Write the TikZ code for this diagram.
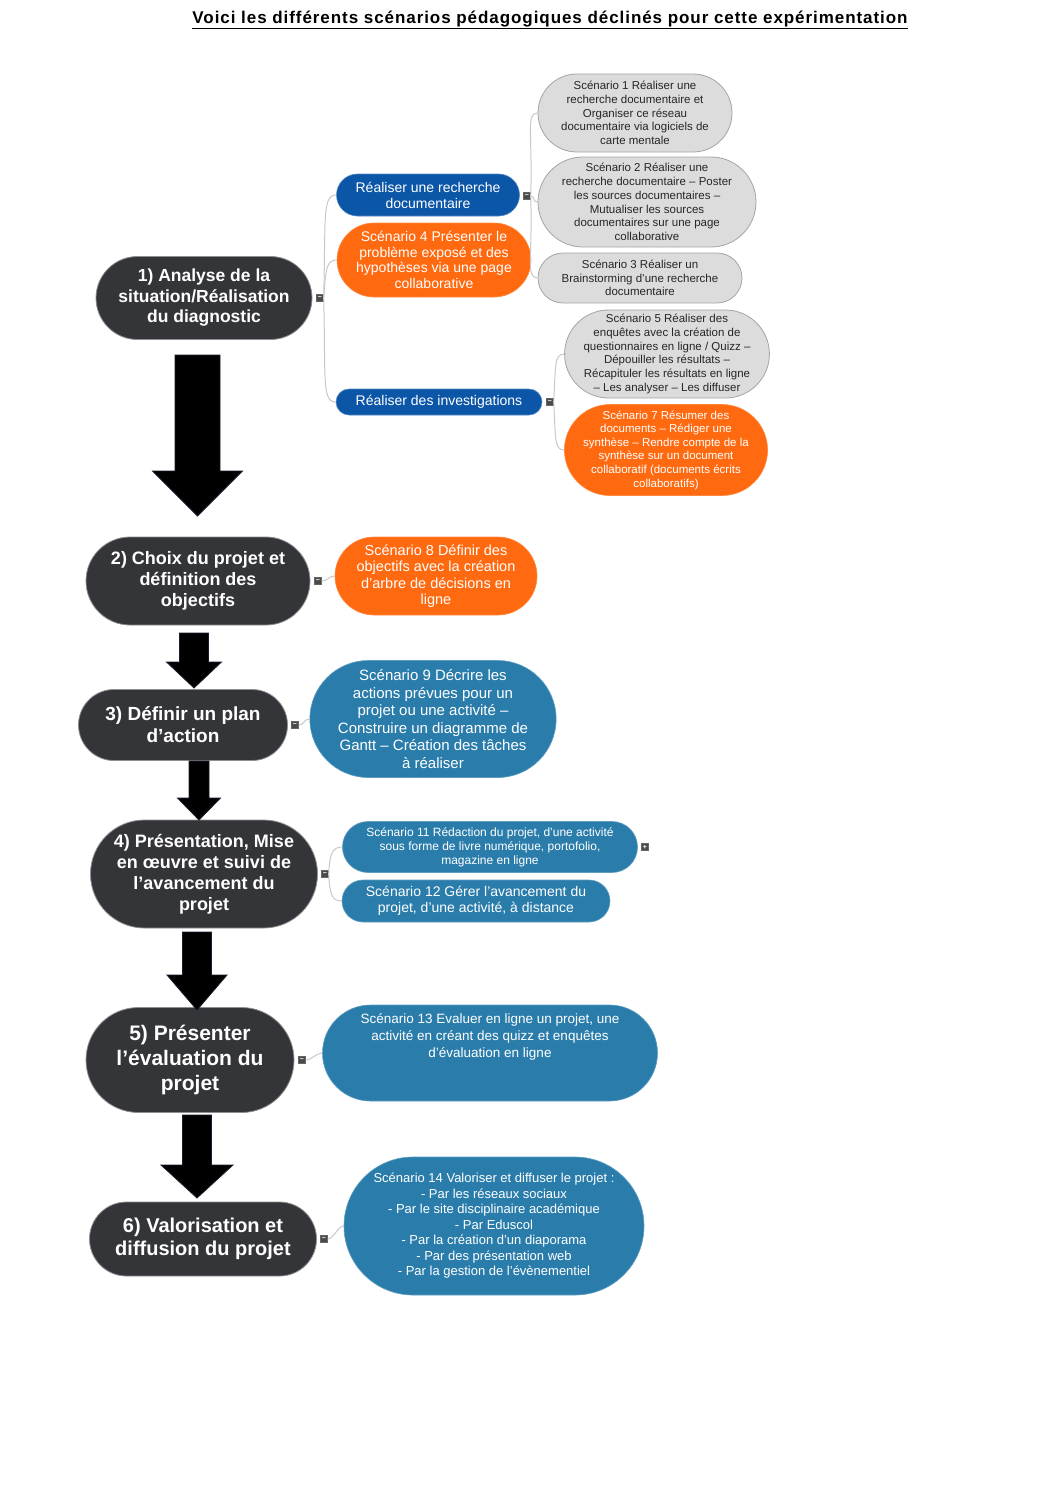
\documentclass[tikz,border=0pt]{standalone}
\usepackage{fontspec}
\setmainfont{Liberation Sans}
\usetikzlibrary{shapes.misc}

\definecolor{etapefond}{HTML}{343539}
\definecolor{etapebord}{HTML}{8E8E90}
\definecolor{bleubranche}{HTML}{0C56A8}
\definecolor{orangesc}{HTML}{FF6A10}
\definecolor{bleusc}{HTML}{2A7DAB}
\definecolor{grisfond}{HTML}{DCDCDC}
\definecolor{grisbord}{HTML}{A4A4A4}
\definecolor{liengris}{HTML}{C8C8C8}
\definecolor{basculefond}{HTML}{4A4A4A}
\definecolor{flechebord}{HTML}{1C1C30}

\newcommand{\corps}[2]{\fontsize{#1}{#2}\selectfont}

% grosse fleche : x, haut, pointe, demi-corps, demi-tete, longueur tete
\newcommand{\grossefleche}[6]{
	\filldraw[fill=black, draw=flechebord, line width=0.8pt]
	(#1-#4,#2) -- (#1+#4,#2) -- (#1+#4,#3-#6) -- (#1+#5,#3-#6) --
	(#1,#3) -- (#1-#5,#3-#6) -- (#1-#4,#3-#6) -- cycle;
}

\tikzset{
	etape/.style 2 args={rounded rectangle, fill=etapefond, draw=etapebord, line width=0.8pt,
		text=white, align=center, inner sep=1pt, font=\corps{#1}{#2}\bfseries},
	branche/.style={rounded rectangle, fill=bleubranche, draw=bleubranche!70!white, line width=0.6pt,
		text=white, align=center, inner sep=1pt, font=\corps{14}{16}},
	scenorange/.style 2 args={rounded rectangle, fill=orangesc, draw=orangesc!80!white, line width=0.6pt,
		text=white, align=center, inner sep=1pt, font=\corps{#1}{#2}},
	scengris/.style={rounded rectangle, fill=grisfond, draw=grisbord, line width=0.8pt,
		text=black!85, align=center, inner ysep=1pt, inner xsep=-6pt, font=\corps{11.5}{13.7}},
	scenbleu/.style 2 args={rounded rectangle, fill=bleusc, draw=bleusc!75!white, line width=0.6pt,
		text=white, align=center, inner sep=1pt, font=\corps{#1}{#2}},
	bascule/.style={fill=basculefond, draw=black!60, line width=0.4pt, minimum size=7pt,
		inner sep=0pt, text=white, font=\corps{7}{7}\bfseries},
	lien/.style={draw=liengris, line width=1pt},
}

\begin{document}
\begin{tikzpicture}[x=1pt, y=-1pt]
	
	\useasboundingbox (0,0) rectangle (1058,1497);
	
	% titre
	\node (titre) at (550,20) {\corps{17}{19}\bfseries\addfontfeature{LetterSpace=5.5}%
		\underline{Voici les différents scénarios pédagogiques déclinés pour cette expérimentation}};
	
	% les etapes
	\node[etape={17.5}{20.5}, minimum width=218pt, minimum height=83pt] (e1) at (204,298)
	{1) Analyse de la\\situation/Réalisation\\du diagnostic};
	\node[etape={18}{21}, minimum width=226pt, minimum height=88pt] (e2) at (198,581)
	{2) Choix du projet et\\définition des\\objectifs};
	\node[etape={19}{22}, minimum width=211pt, minimum height=71pt] (e3) at (183,725)
	{3) Définir un plan\\d’action};
	\node[etape={18}{21}, minimum width=229pt, minimum height=108pt] (e4) at (204,874)
	{4) Présentation, Mise\\en œuvre et suivi de\\l’avancement du\\projet};
	\node[etape={21}{25}, minimum width=210pt, minimum height=105pt] (e5) at (190,1060)
	{5) Présenter\\l’évaluation du\\projet};
	\node[etape={20}{23}, minimum width=229pt, minimum height=74pt] (e6) at (203,1239)
	{6) Valorisation et\\diffusion du projet};
	
	% les fleches entre etapes
	\grossefleche{197.5}{355}{516}{22.5}{45}{45}
	\grossefleche{194}{633}{688}{14.5}{27.5}{26}
	\grossefleche{199}{761}{820}{10}{21.5}{22}
	\grossefleche{197}{932}{1010}{14.5}{30}{35}
	\grossefleche{197}{1115}{1198}{14.5}{36}{33}
	
	% branches de l'etape 1
	\node[branche, minimum width=185pt, minimum height=42pt] (b1) at (428,195)
	{Réaliser une recherche\\documentaire};
	\node[scenorange={14}{15.7}, minimum width=196pt, minimum height=74pt] (s4) at (434,260)
	{Scénario 4 Présenter le\\problème exposé et des\\hypothèses via une page\\collaborative};
	\node[branche, minimum width=208pt, minimum height=26pt] (b2) at (439,402)
	{Réaliser des investigations};
	
	\node[scengris, minimum width=182pt, minimum height=78pt] (s1) at (635,113)
	{Scénario 1 Réaliser une\\recherche documentaire et\\Organiser ce réseau\\documentaire via logiciels de\\carte mentale};
	\node[scengris, minimum width=206pt, minimum height=90pt] (s2) at (647,202)
	{Scénario 2 Réaliser une\\recherche documentaire – Poster\\les sources documentaires –\\Mutualiser les sources\\documentaires sur une page\\collaborative};
	\node[scengris, minimum width=192pt, minimum height=50pt] (s3) at (640,278)
	{Scénario 3 Réaliser un\\Brainstorming d’une recherche\\documentaire};
	\node[scengris, minimum width=202pt, minimum height=88pt] (s5) at (667,354)
	{Scénario 5 Réaliser des\\enquêtes avec la création de\\questionnaires en ligne / Quizz –\\Dépouiller les résultats –\\Récapituler les résultats en ligne\\– Les analyser – Les diffuser};
	\node[scenorange={11.5}{13.6}, inner xsep=-4pt, minimum width=203pt, minimum height=91pt] (s7) at (666,450)
	{Scénario 7 Résumer des\\documents – Rédiger une\\synthèse – Rendre compte de la\\synthèse sur un document\\collaboratif (documents écrits\\collaboratifs)};
	
	% scenarios des etapes 2 a 6
	\node[scenorange={14.5}{16.5}, minimum width=204pt, minimum height=78pt] (s8) at (436,576)
	{Scénario 8 Définir des\\objectifs avec la création\\d’arbre de décisions en\\ligne};
	\node[scenbleu={15}{17.5}, minimum width=240pt, minimum height=117pt] (s9) at (433,719)
	{Scénario 9 Décrire les\\actions prévues pour un\\projet ou une activité –\\Construire un diagramme de\\Gantt – Création des tâches\\à réaliser};
	\node[scenbleu={12}{14}, minimum width=297pt, minimum height=51pt] (s11) at (490,847)
	{Scénario 11 Rédaction du projet, d’une activité\\sous forme de livre numérique, portofolio,\\magazine en ligne};
	\node[scenbleu={14}{16}, minimum width=270pt, minimum height=42pt] (s12) at (476,901)
	{Scénario 12 Gérer l’avancement du\\projet, d’une activité, à distance};
	\node[scenbleu={13.5}{17}, minimum width=337pt, minimum height=96pt] (s13) at (490,1053)
	{Scénario 13 Evaluer en ligne un projet, une\\activité en créant des quizz et enquêtes\\d’évaluation en ligne\\\mbox{}\\\mbox{}};
	\node[scenbleu={13}{15.5}, minimum width=302pt, minimum height=138pt] (s14) at (494,1226)
	{Scénario 14 Valoriser et diffuser le projet :\\- Par les réseaux sociaux\\- Par le site disciplinaire académique\\- Par Eduscol\\- Par la création d’un diaporama\\- Par des présentation web\\- Par la gestion de l’évènementiel};
	
	% boutons
	\node[bascule] (t1) at (320,298) {−};
	\node[bascule] (t2) at (527,196) {−};
	\node[bascule] (t3) at (550,402) {−};
	\node[bascule] (t4) at (318,581) {−};
	\node[bascule] (t5) at (295,725) {−};
	\node[bascule] (t6) at (325,874) {−};
	\node[bascule] (t7) at (302,1060) {−};
	\node[bascule] (t8) at (324,1239) {−};
	\node[bascule] (t9) at (645,847) {+};
	
	% liens
	\draw[lien] (t1.east) .. controls +(2,-80) and +(-14,0) .. (b1.west);
	\draw[lien] (t1.east) .. controls +(2,-30) and +(-10,0) .. (s4.west);
	\draw[lien] (t1.east) .. controls +(2,80) and +(-14,0) .. (b2.west);
	
	\draw[lien] (t2.east) .. controls +(2,-62) and +(-12,0) .. (s1.west);
	\draw[lien] (t2.east) .. controls +(5,0) and +(-6,0) .. (s2.west);
	\draw[lien] (t2.east) .. controls +(2,62) and +(-12,0) .. (s3.west);
	
	\draw[lien] (t3.east) .. controls +(2,-36) and +(-10,0) .. (s5.west);
	\draw[lien] (t3.east) .. controls +(2,36) and +(-10,0) .. (s7.west);
	
	\draw[lien] (t4.east) .. controls +(6,0) and +(-6,0) .. (s8.west);
	\draw[lien] (t5.east) .. controls +(6,0) and +(-6,0) .. (s9.west);
	\draw[lien] (t6.east) .. controls +(1,-20) and +(-10,0) .. (s11.west);
	\draw[lien] (t6.east) .. controls +(1,20) and +(-10,0) .. (s12.west);
	\draw[lien] (t7.east) .. controls +(6,0) and +(-6,0) .. (s13.west);
	\draw[lien] (t8.east) .. controls +(6,0) and +(-6,0) .. (s14.west);
	
\end{tikzpicture}
\end{document}
